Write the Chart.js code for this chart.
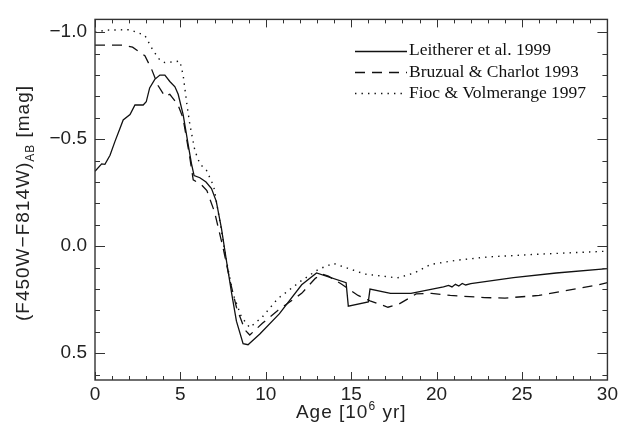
<!DOCTYPE html>
<html>
<head>
<meta charset="utf-8">
<script src="https://cdn.jsdelivr.net/npm/chart.js@4.4.0/dist/chart.umd.min.js"></script>
<style>
  html, body { margin: 0; padding: 0; background: #fff; }
</style>
</head>
<body>
<canvas id="chart" width="621" height="434"></canvas>
<script>
// ages in 10^6 yr, colours in mag (F450W - F814W)_AB
const leithererAge = [0.0, 0.39, 0.58, 0.88, 1.17, 1.46, 1.65, 2.05, 2.34, 2.82, 3.0, 3.2, 3.5, 3.8, 4.09, 4.38, 4.68, 4.87, 5.16, 5.45, 5.65, 5.8, 6.14, 6.5, 6.82, 7.1, 7.4, 7.7, 8.0, 8.28, 8.67, 8.96, 9.65, 10.8, 12.1, 12.97, 14.7, 14.83, 16.0, 16.1, 17.3, 18.5, 20.4, 20.7, 20.9, 21.1, 21.3, 21.5, 21.7, 22.0, 24.5, 27.0, 30.0];
const leithererColor = [-0.35, -0.385, -0.383, -0.425, -0.49, -0.55, -0.59, -0.615, -0.66, -0.66, -0.675, -0.74, -0.78, -0.80, -0.80, -0.77, -0.745, -0.71, -0.615, -0.477, -0.385, -0.33, -0.32, -0.30, -0.27, -0.21, -0.085, 0.07, 0.22, 0.35, 0.455, 0.46, 0.41, 0.315, 0.18, 0.125, 0.17, 0.28, 0.26, 0.20, 0.22, 0.22, 0.19, 0.183, 0.19, 0.178, 0.186, 0.174, 0.181, 0.175, 0.147, 0.125, 0.105];

const bruzualAge = [0.0, 1.65, 2.2, 2.92, 3.3, 3.7, 4.09, 4.38, 4.86, 5.15, 5.55, 5.75, 6.2, 6.55, 7.0, 7.5, 7.9, 8.28, 8.77, 9.06, 9.8, 10.7, 12.1, 12.9, 13.3, 13.66, 14.4, 15.4, 16.1, 17.15, 17.8, 18.8, 19.7, 20.8, 22.8, 24.0, 26.0, 27.4, 29.5, 30.0];
const bruzualColor = [-0.94, -0.94, -0.93, -0.89, -0.83, -0.75, -0.70, -0.71, -0.66, -0.60, -0.415, -0.31, -0.29, -0.26, -0.16, 0.008, 0.16, 0.285, 0.39, 0.415, 0.36, 0.30, 0.22, 0.15, 0.13, 0.14, 0.175, 0.23, 0.255, 0.285, 0.27, 0.223, 0.22, 0.23, 0.24, 0.242, 0.23, 0.21, 0.18, 0.17];

const fiocAge = [0.0, 0.68, 2.05, 2.92, 3.4, 3.8, 4.09, 4.97, 5.16, 5.36, 5.55, 5.85, 6.14, 6.53, 6.95, 7.3, 7.7, 8.07, 8.57, 9.06, 9.8, 10.7, 12.1, 13.1, 13.95, 15.8, 17.7, 18.7, 19.65, 21.2, 23.0, 26.0, 28.0, 30.0];
const fiocColor = [-1.0, -1.01, -1.012, -0.985, -0.915, -0.87, -0.858, -0.865, -0.80, -0.675, -0.57, -0.446, -0.385, -0.354, -0.28, -0.12, 0.07, 0.22, 0.33, 0.38, 0.33, 0.245, 0.16, 0.107, 0.08, 0.13, 0.148, 0.125, 0.085, 0.065, 0.05, 0.037, 0.03, 0.023];

const seriesNames = ['Leitherer et al. 1999', 'Bruzual & Charlot 1993', 'Fioc & Volmerange 1997'];
const xTicks = [0, 5, 10, 15, 20, 25, 30];
const yTicks = [-1.0, -0.5, 0.0, 0.5];

const toPoints = (xs, ys) => xs.map((x, i) => ({ x: x, y: ys[i] }));

const tickFont = { family: 'Liberation Sans', size: 19 };
const ink = '#222';

// box round the plot with inward major/minor ticks on all four sides
const framePlugin = {
  id: 'frame',
  afterDatasetsDraw(chart) {
    const { ctx, chartArea: a, scales: { x, y } } = chart;
    ctx.save();
    ctx.strokeStyle = '#333';
    ctx.lineWidth = 1.4;
    ctx.strokeRect(a.left, a.top, a.right - a.left, a.bottom - a.top);
    ctx.lineWidth = 1;
    ctx.beginPath();
    for (let k = Math.ceil(x.min); k <= Math.floor(x.max); k++) {
      const px = Math.round(x.getPixelForValue(k)) + 0.5;
      const len = k % 5 === 0 ? 8 : 4;
      ctx.moveTo(px, a.bottom); ctx.lineTo(px, a.bottom - len);
      ctx.moveTo(px, a.top); ctx.lineTo(px, a.top + len);
    }
    for (let k = Math.ceil(y.min * 10); k <= Math.floor(y.max * 10); k++) {
      const py = Math.round(y.getPixelForValue(k / 10)) + 0.5;
      const len = k % 5 === 0 ? 10 : 5;
      ctx.moveTo(a.left, py); ctx.lineTo(a.left + len, py);
      ctx.moveTo(a.right, py); ctx.lineTo(a.right - len, py);
    }
    ctx.stroke();
    ctx.restore();
  }
};

// axis titles with sub/superscripts
const titlePlugin = {
  id: 'titles',
  afterDraw(chart) {
    const { ctx, chartArea: a } = chart;
    const big = '19px "Liberation Sans"';
    const small = '12px "Liberation Sans"';
    ctx.save();
    ctx.fillStyle = ink;
    ctx.textBaseline = 'alphabetic';
    ctx.textAlign = 'left';
    ctx.letterSpacing = '1px';

    // x title: Age [10^6 yr]
    let runs = [['Age [10', big, 0], ['6', small, -8], [' yr]', big, 0]];
    let w = 0;
    runs.forEach(r => { ctx.font = r[1]; w += ctx.measureText(r[0]).width; });
    let cx = (a.left + a.right) / 2 - w / 2;
    runs.forEach(r => { ctx.font = r[1]; ctx.fillText(r[0], cx, 418 + r[2]); cx += ctx.measureText(r[0]).width; });

    // y title: (F450W-F814W)_AB [mag]
    runs = [['(F450W\u2212F814W)', big, 0], ['AB', small, 5], [' [mag]', big, 0]];
    w = 0;
    runs.forEach(r => { ctx.font = r[1]; w += ctx.measureText(r[0]).width; });
    ctx.translate(28.5, 203);
    ctx.rotate(-Math.PI / 2);
    cx = -w / 2;
    runs.forEach(r => { ctx.font = r[1]; ctx.fillText(r[0], cx, r[2]); cx += ctx.measureText(r[0]).width; });
    ctx.restore();
  }
};

// legend in the upper right corner, IDL style
const legendPlugin = {
  id: 'idlLegend',
  afterDraw(chart) {
    const ctx = chart.ctx;
    ctx.save();
    ctx.font = '17.5px "Liberation Serif"';
    ctx.fillStyle = '#111';
    ctx.textBaseline = 'alphabetic';
    chart.data.datasets.forEach((ds, i) => {
      const ly = 51.5 + i * 21;
      ctx.strokeStyle = ds.borderColor;
      ctx.lineWidth = ds.borderWidth;
      ctx.setLineDash(ds.borderDash || []);
      ctx.beginPath();
      ctx.moveTo(355, ly);
      ctx.lineTo(407, ly);
      ctx.stroke();
      ctx.fillText(ds.label, 409, 55 + i * 21.5);
    });
    ctx.restore();
  }
};

const ctx = document.getElementById('chart').getContext('2d');
const chart = new Chart(ctx, {
  type: 'line',
  data: {
    datasets: [{
      label: seriesNames[0],
      data: toPoints(leithererAge, leithererColor),
      borderColor: '#111',
      borderWidth: 1.3,
      borderDash: [],
    }, {
      label: seriesNames[1],
      data: toPoints(bruzualAge, bruzualColor),
      borderColor: '#111',
      borderWidth: 1.3,
      borderDash: [10, 7],
    }, {
      label: seriesNames[2],
      data: toPoints(fiocAge, fiocColor),
      borderColor: '#111',
      borderWidth: 1.4,
      borderDash: [1.4, 5.1],
    }]
  },
  options: {
    responsive: false,
    animation: false,
    devicePixelRatio: 1,
    layout: { padding: { top: 16, right: 13, left: 0, bottom: 0 } },
    elements: {
      point: { radius: 0 },
      line: { tension: 0, fill: false }
    },
    plugins: {
      legend: { display: false },
      tooltip: { enabled: false }
    },
    scales: {
      x: {
        type: 'linear',
        min: 0,
        max: 30,
        afterBuildTicks: s => { s.ticks = xTicks.map(v => ({ value: v })); },
        afterFit: s => { s.height = 54; },
        grid: { display: false, drawTicks: false },
        border: { display: false },
        ticks: {
          font: tickFont,
          color: ink,
          padding: 3,
          maxRotation: 0,
          autoSkip: false,
          callback: v => String(v)
        }
      },
      y: {
        type: 'linear',
        reverse: true,
        min: -1.06,
        max: 0.625,
        afterBuildTicks: s => { s.ticks = yTicks.map(v => ({ value: v })); },
        afterFit: s => { s.width = 95; },
        grid: { display: false, drawTicks: false },
        border: { display: false },
        ticks: {
          font: tickFont,
          color: ink,
          padding: 8,
          autoSkip: false,
          callback: v => (v < 0 ? '\u2212' : '') + Math.abs(v).toFixed(1)
        }
      }
    }
  },
  plugins: [framePlugin, titlePlugin, legendPlugin]
});
</script>
</body>
</html>
